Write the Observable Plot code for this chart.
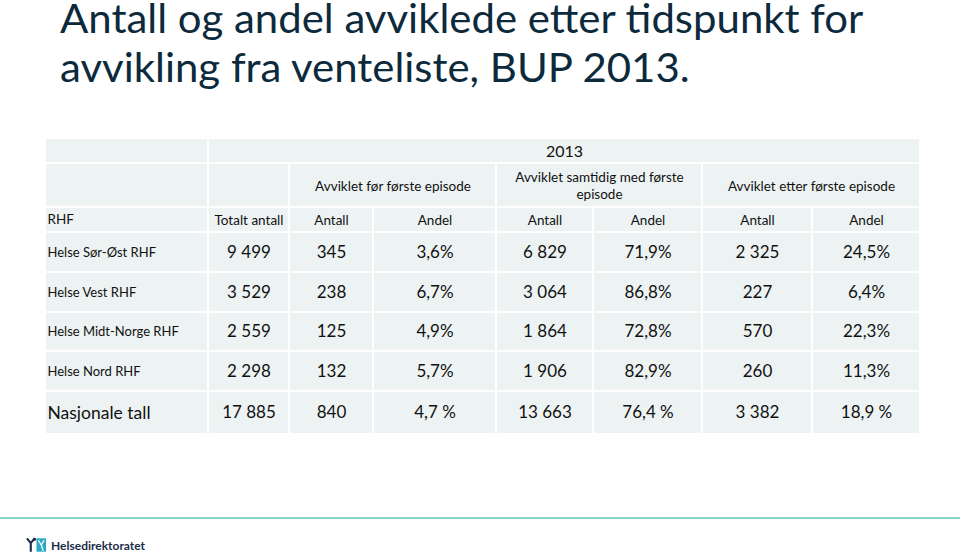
<!DOCTYPE html>
<html><head><meta charset="utf-8">
<script src="https://cdn.jsdelivr.net/npm/d3@7"></script>
<script src="https://cdn.jsdelivr.net/npm/@observablehq/plot@0.6"></script>
<style>
html,body{margin:0;padding:0;background:#fff;width:960px;height:554px;overflow:hidden;position:relative;}
#chart{position:absolute;left:0;top:0;}
.title{position:absolute;left:60px;font-family:Lato,sans-serif;font-size:40px;line-height:30px;color:#0c2a3c;white-space:nowrap;transform-origin:0 0;transform:scaleX(1.048);}
#t1{top:3px;}
#t2{top:51.5px;}
#rule{position:absolute;left:0;top:517px;width:960px;height:2px;background:#86d3cc;}
#logo{position:absolute;left:26px;top:537px;display:flex;align-items:center;gap:0px;font-family:Lato,sans-serif;font-weight:700;font-size:12px;color:#1b2d4a;}
#logo svg{margin-right:4px;}
</style></head><body>
<div id="chart"></div>
<div class="title" id="t1">Antall og andel avviklede etter tidspunkt for</div>
<div class="title" id="t2">avvikling fra venteliste, BUP 2013.</div>
<div id="rule"></div>
<div id="logo"><svg width="21" height="16" viewBox="0 0 22 16"><path d="M1 1 L5 6 L9 1 M5 6 L5 15" stroke="#1b2d4a" stroke-width="2.2" fill="none"/><circle cx="9" cy="2" r="1.6" fill="#1b2d4a"/><rect x="11" y="1" width="10" height="14" fill="#2aa9c4"/><path d="M13 3 L16 8 L19 3 M16 8 L18 14" stroke="#fff" stroke-width="1.4" fill="none"/></svg><span>Helsedirektoratet</span></div>
<script>
// ---- data ----
const year = "2013";
const groupHeaders = ["Avviklet før første episode", "Avviklet samtidig med første\nepisode", "Avviklet etter første episode"];
const subHeaders = ["RHF", "Totalt antall", "Antall", "Andel", "Antall", "Andel", "Antall", "Andel"];
const regions = ["Helse Sør-Øst RHF", "Helse Vest RHF", "Helse Midt-Norge RHF", "Helse Nord RHF", "Nasjonale tall"];
const totalt = [9499, 3529, 2559, 2298, 17885];
const forAntall = [345, 238, 125, 132, 840];
const forAndel = [3.6, 6.7, 4.9, 5.7, 4.7];
const samAntall = [6829, 3064, 1864, 1906, 13663];
const samAndel = [71.9, 86.8, 72.8, 82.9, 76.4];
const etterAntall = [2325, 227, 570, 260, 3382];
const etterAndel = [24.5, 6.4, 22.3, 11.3, 18.9];

// ---- layout ----
const colW = [163, 81, 84, 123, 97, 109, 110, 108];
const rowH = [25, 44, 25, 40, 40, 39, 40, 43];
const colEdge = Array.from(d3.cumsum([45, ...colW]));
const rowEdge = Array.from(d3.cumsum([138, ...rowH]));
const cx = (a, b) => (colEdge[a] + colEdge[b + 1]) / 2;
const cy = r => (rowEdge[r] + rowEdge[r + 1]) / 2;

const cells = [];
const cell = (r, a, b) => cells.push({x1: colEdge[a], x2: colEdge[b + 1], y1: rowEdge[r], y2: rowEdge[r + 1]});
cell(0, 0, 0); cell(0, 1, 7);
cell(1, 0, 0); cell(1, 1, 1); cell(1, 2, 3); cell(1, 4, 5); cell(1, 6, 7);
for (let r = 2; r < 8; r++) for (let c = 0; c < 8; c++) cell(r, c, c);

const fmtInt = n => d3.format(",")(n).replace(/,/g, " ");
const fmtPct = (v, nat) => v.toFixed(1).replace(".", ",") + (nat ? " %" : "%");

const headerCenter = [];
headerCenter.push({x: cx(1, 7), y: cy(0), t: year, s: 16});
groupHeaders.forEach((g, i) => headerCenter.push({x: cx(2 + 2 * i, 3 + 2 * i), y: cy(1), t: g, s: 13.5}));
subHeaders.forEach((h, i) => { if (i > 0) headerCenter.push({x: cx(i, i), y: cy(2), t: h, s: 13.5}); });

const leftText = [{x: colEdge[0] + 2, y: cy(2), t: subHeaders[0], s: 13.5}];
regions.forEach((r, i) => leftText.push({x: colEdge[0] + 2, y: cy(3 + i), t: r, s: i === regions.length - 1 ? 17.5 : 13}));

const numText = [];
regions.forEach((r, i) => {
  const nat = i === regions.length - 1;
  const vals = [fmtInt(totalt[i]), fmtInt(forAntall[i]), fmtPct(forAndel[i], nat), fmtInt(samAntall[i]), fmtPct(samAndel[i], nat), fmtInt(etterAntall[i]), fmtPct(etterAndel[i], nat)];
  vals.forEach((v, c) => numText.push({x: cx(c + 1, c + 1), y: cy(3 + i), t: v, s: 17}));
});

const font = "Lato, sans-serif";
const chart = Plot.plot({
  width: 960, height: 554, margin: 0,
  x: {domain: [0, 960], range: [0, 960], axis: null},
  y: {domain: [0, 554], range: [0, 554], axis: null},
  style: {fontFamily: font, background: "transparent"},
  marks: [
    Plot.rect(cells, {x1: "x1", x2: "x2", y1: "y1", y2: "y2", fill: "#edf3f3", inset: 1}),
    Plot.text(headerCenter, {x: "x", y: "y", text: "t", fontSize: "s", fill: "#111", lineHeight: 1.25}),
    Plot.text(leftText, {x: "x", y: "y", text: "t", fontSize: "s", fill: "#111", textAnchor: "start"}),
    Plot.text(numText, {x: "x", y: "y", text: "t", fontSize: "s", fill: "#111"})
  ]
});
document.getElementById("chart").appendChild(chart);
</script>
</body></html>
